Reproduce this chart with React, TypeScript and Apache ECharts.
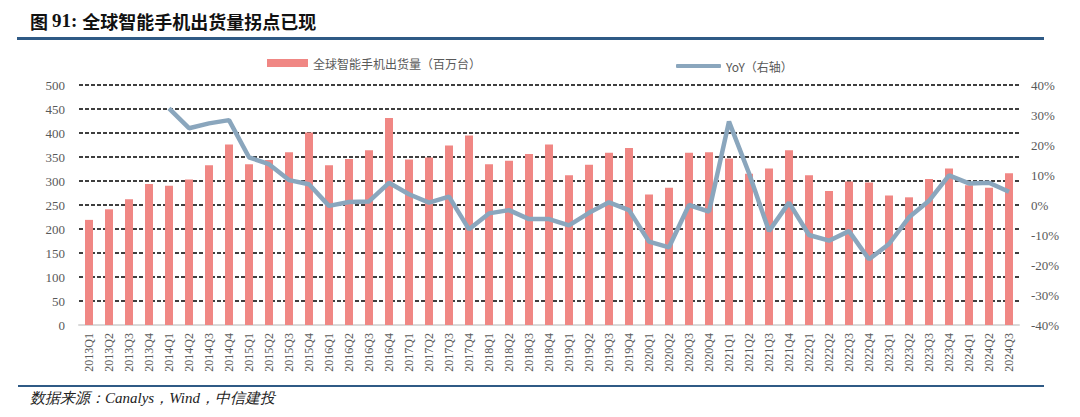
import React, { useEffect, useRef } from "react";
import * as echarts from "echarts";

const categories: string[] = [];
const years = ["2013","2014","2015","2016","2017","2018","2019","2020","2021","2022","2023","2024"];
for (const y of years) {
  for (const q of ["Q1", "Q2", "Q3", "Q4"]) {
    if (y === "2024" && q === "Q4") continue;
    categories.push(y + q);
  }
}

const shipments = [
  219, 241, 262, 294,
  290, 303, 333, 376,
  335, 344, 360, 401,
  333, 346, 364, 431,
  345, 349, 374, 395,
  335, 342, 356, 376,
  312, 334, 359, 369,
  272, 286, 359, 360,
  347, 315, 326, 364,
  312, 279, 299, 297,
  270, 266, 304, 326,
  291, 286, 316,
];

const yoy = [
  null, null, null, null,
  32.2, 25.6, 27.2, 28.3,
  15.9, 13.6, 8.3, 6.9,
  -0.3, 1.0, 1.2, 7.4,
  3.6, 0.8, 2.8, -8.1,
  -2.8, -1.7, -4.7, -4.7,
  -6.8, -2.6, 0.9, -1.7,
  -12.2, -14.1, 0.0, -2.2,
  27.8, 10.6, -8.7, 0.8,
  -10.0, -11.9, -8.7, -18.1,
  -13.0, -4.1, 1.4, 9.9,
  7.2, 7.4, 4.4,
];

const barName = "全球智能手机出货量（百万台）";
const lineName = "YoY（右轴）";
const titlePrefix = "图 ";
const titleNumber = "91: ";
const titleText = "全球智能手机出货量拐点已现";
const sourceText = "数据来源：Canalys，Wind，中信建投";

export default function App() {
  const ref = useRef<HTMLDivElement>(null);
  useEffect(() => {
    if (!ref.current) return;
    const chart = echarts.init(ref.current, null, { renderer: "svg" });
    const labelColor = "#595959";
    const serif = "Liberation Serif";
    chart.setOption({
      animation: false,
      backgroundColor: "#ffffff",
      grid: { left: 79, right: 61, top: 85, bottom: 92, containLabel: false },
      legend: [
        {
          data: [{ name: barName, icon: "rect" }],
          left: 262,
          top: 52,
          itemWidth: 41,
          itemHeight: 8,
          itemGap: 5,
          textStyle: { color: labelColor, fontSize: 12, fontFamily: "Noto Sans CJK SC" },
        },
        {
          data: [{ name: lineName, icon: "roundRect", itemStyle: { color: "#8aa6bd" } }],
          left: 671,
          top: 55,
          itemWidth: 45,
          itemHeight: 4,
          textStyle: { color: labelColor, fontSize: 12, fontFamily: "Noto Sans CJK SC" },
        },
      ],
      xAxis: {
        type: "category",
        data: categories,
        axisLine: { lineStyle: { color: "#d9d9d9", width: 2 } },
        axisTick: { show: false },
        axisLabel: {
          rotate: 90,
          interval: 0,
          color: labelColor,
          fontSize: 12,
          fontFamily: serif,
          margin: 8,
        },
      },
      yAxis: [
        {
          type: "value",
          min: 0,
          max: 500,
          interval: 50,
          axisLine: { show: false },
          axisTick: { show: false },
          axisLabel: { color: labelColor, fontSize: 13, fontFamily: serif, margin: 14 },
          splitLine: { lineStyle: { color: "#000000", type: [4, 2], width: 1.5 } },
        },
        {
          type: "value",
          min: -40,
          max: 40,
          interval: 10,
          alignTicks: false,
          axisLine: { show: false },
          axisTick: { show: false },
          splitLine: { show: false },
          axisLabel: { color: labelColor, fontSize: 13, fontFamily: serif, margin: 12, formatter: "{value}%" },
        },
      ],
      series: [
        {
          name: barName,
          type: "bar",
          data: shipments,
          barWidth: 8,
          itemStyle: { color: "#f08784" },
          yAxisIndex: 0,
        },
        {
          name: lineName,
          type: "line",
          data: yoy,
          yAxisIndex: 1,
          showSymbol: false,
          symbol: "none",
          lineStyle: { color: "#8aa6bd", width: 4.5 },
          itemStyle: { color: "#8aa6bd" },
        },
      ],
      graphic: [
        {
          type: "text",
          left: 30,
          top: 11,
          style: {
            text: "{a|" + titlePrefix + "}{n|" + titleNumber + "}{b|" + titleText + "}",
            rich: {
              a: { fontFamily: "Noto Sans CJK SC", fontWeight: "bold", fontSize: 18, fill: "#111" },
              n: { fontFamily: "Liberation Serif", fontWeight: "bold", fontSize: 19, fill: "#111" },
              b: { fontFamily: "Noto Sans CJK SC", fontWeight: "bold", fontSize: 18, fill: "#111" },
            },
          },
        },
        {
          type: "rect",
          shape: { x: 17, y: 37, width: 1027, height: 3 },
          style: { fill: "#2f5a85" },
        },
        {
          type: "rect",
          shape: { x: 18, y: 385, width: 1026, height: 2 },
          style: { fill: "#2f5a85" },
        },
        {
          type: "text",
          left: 30,
          top: 390,
          style: {
            text: sourceText,
            fontFamily: "Liberation Serif",
            fontStyle: "italic",
            fontSize: 15,
            fill: "#222",
          },
        },
      ],
    });
    return () => chart.dispose();
  }, []);
  return <div ref={ref} style={{ width: 1080, height: 417, position: "absolute", left: 0, top: 0 }} />;
}
